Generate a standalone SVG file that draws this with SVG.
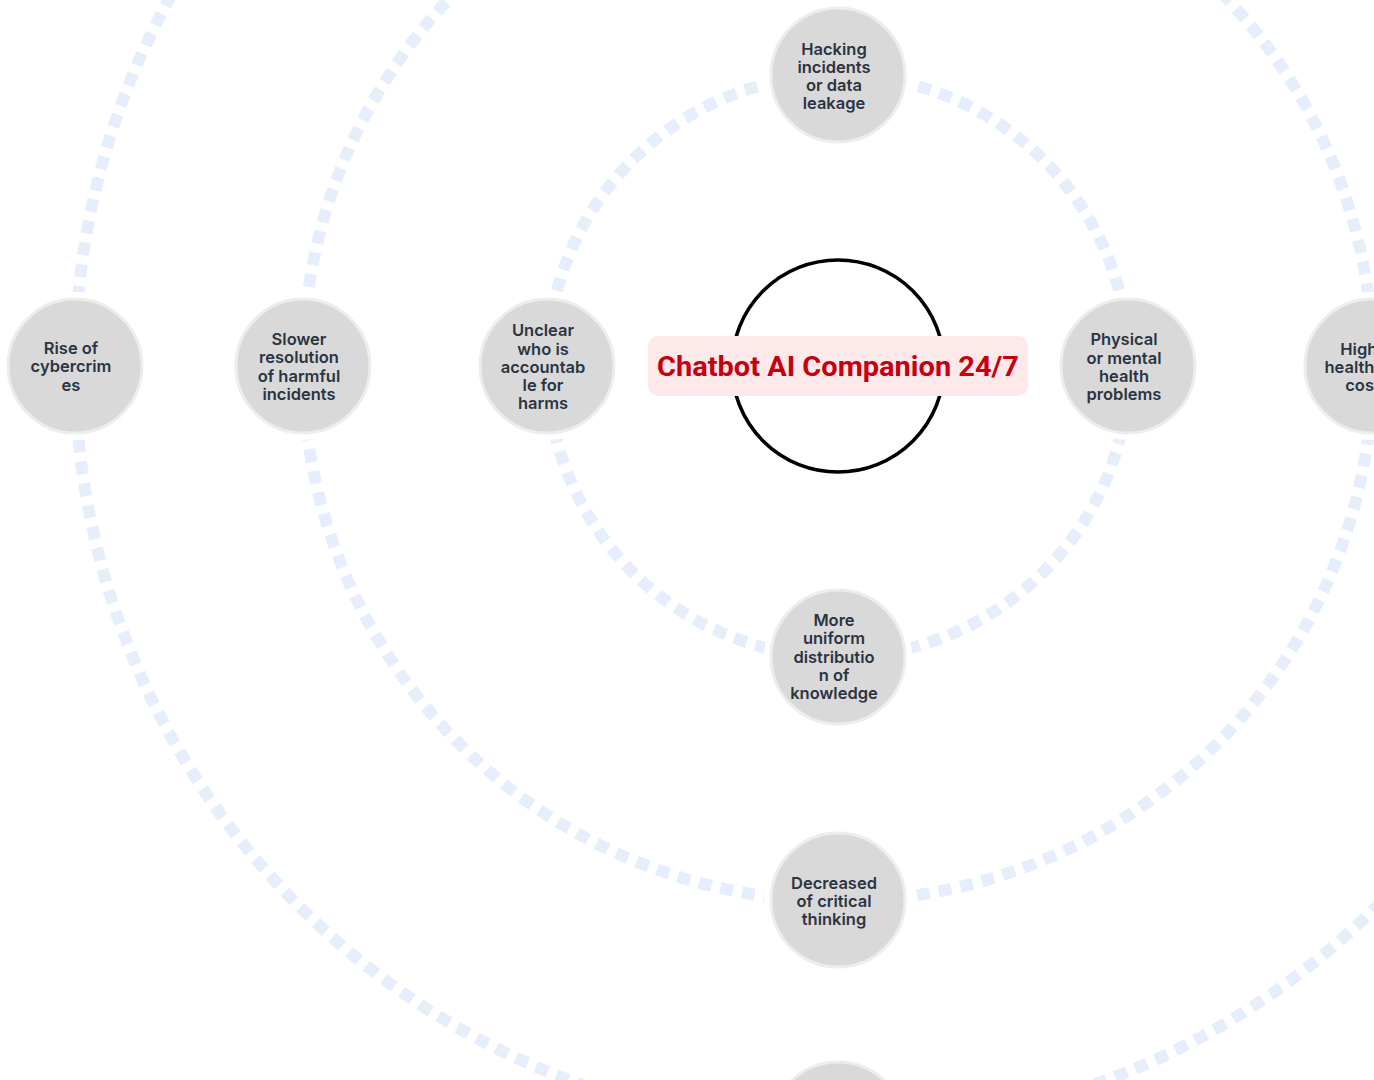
<svg xmlns="http://www.w3.org/2000/svg" width="1374" height="1080" viewBox="0 0 1374 1080">
<defs>
<style>
.ring{fill:none;stroke:#e6eefc;stroke-width:12;stroke-dasharray:13 9}
.halo{fill:#ffffff}
.nc{fill:#d9d9d9;stroke:#ededed;stroke-width:3}
.nt{font-family:Inter,"Liberation Sans",sans-serif;font-weight:600;font-size:16.5px;fill:#2b3442;text-anchor:middle}
.ct{font-family:Roboto,"Liberation Sans",sans-serif;font-weight:700;font-size:28px;fill:#c5000f;text-anchor:middle}
</style>
</defs>
<rect width="1374" height="1080" fill="#ffffff"/>
<g id="connectors">
<circle class="ring" cx="838" cy="366" r="291"/>
<circle class="ring" cx="838" cy="366" r="535"/>
<circle class="ring" cx="838" cy="366" r="763"/>
</g>
<g id="center">
<circle cx="838" cy="366" r="106" fill="#ffffff" stroke="#000000" stroke-width="3.5"/>
<rect x="648" y="336" width="380" height="60" rx="10" fill="#fde9ea"/>
<text class="ct" x="838" y="376" textLength="362" lengthAdjust="spacingAndGlyphs">Chatbot AI Companion 24/7</text>
</g>
<g id="node-hacking">
<circle class="halo" cx="838" cy="75" r="74"/>
<circle class="nc" cx="838" cy="75" r="67"/>
<text class="nt" x="834" y="55">Hacking</text>
<text class="nt" x="834" y="73">incidents</text>
<text class="nt" x="834" y="91">or data</text>
<text class="nt" x="834" y="109">leakage</text>
</g>
<g id="node-unclear">
<circle class="halo" cx="547" cy="366" r="74"/>
<circle class="nc" cx="547" cy="366" r="67"/>
<text class="nt" x="543" y="336">Unclear</text>
<text class="nt" x="543" y="355">who is</text>
<text class="nt" x="543" y="373">accountab</text>
<text class="nt" x="543" y="391">le for</text>
<text class="nt" x="543" y="409">harms</text>
</g>
<g id="node-physical">
<circle class="halo" cx="1128" cy="366" r="74"/>
<circle class="nc" cx="1128" cy="366" r="67"/>
<text class="nt" x="1124" y="345">Physical</text>
<text class="nt" x="1124" y="364">or mental</text>
<text class="nt" x="1124" y="382">health</text>
<text class="nt" x="1124" y="400">problems</text>
</g>
<g id="node-uniform">
<circle class="halo" cx="838" cy="657" r="74"/>
<circle class="nc" cx="838" cy="657" r="67"/>
<text class="nt" x="834" y="626">More</text>
<text class="nt" x="834" y="644">uniform</text>
<text class="nt" x="834" y="663">distributio</text>
<text class="nt" x="834" y="681">n of</text>
<text class="nt" x="834" y="699">knowledge</text>
</g>
<g id="node-slower">
<circle class="halo" cx="303" cy="366" r="74"/>
<circle class="nc" cx="303" cy="366" r="67"/>
<text class="nt" x="299" y="345">Slower</text>
<text class="nt" x="299" y="363">resolution</text>
<text class="nt" x="299" y="382">of harmful</text>
<text class="nt" x="299" y="400">incidents</text>
</g>
<g id="node-decreased">
<circle class="halo" cx="838" cy="900" r="74"/>
<circle class="nc" cx="838" cy="900" r="67"/>
<text class="nt" x="834" y="889">Decreased</text>
<text class="nt" x="834" y="907">of critical</text>
<text class="nt" x="834" y="925">thinking</text>
</g>
<g id="node-rise">
<circle class="halo" cx="75" cy="366" r="74"/>
<circle class="nc" cx="75" cy="366" r="67"/>
<text class="nt" x="71" y="354">Rise of</text>
<text class="nt" x="71" y="372">cybercrim</text>
<text class="nt" x="71" y="391">es</text>
</g>
<g id="node-health-costs">
<circle class="halo" cx="1372" cy="366" r="74"/>
<circle class="nc" cx="1372" cy="366" r="67"/>
<text class="nt" x="1367" y="355">Higher</text>
<text class="nt" x="1367" y="373">healthcare</text>
<text class="nt" x="1367" y="391">costs</text>
</g>
<g id="node-bottom">
<circle class="halo" cx="838" cy="1129" r="74"/>
<circle class="nc" cx="838" cy="1129" r="67"/>
</g>
</svg>
